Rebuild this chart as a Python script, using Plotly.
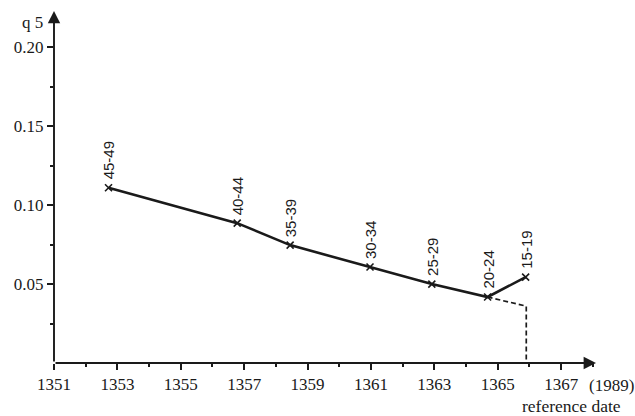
import plotly.graph_objects as go

# Data
age_groups = ["45-49", "40-44", "35-39", "30-34", "25-29", "20-24", "15-19"]
ref_dates = [1352.72, 1356.78, 1358.45, 1360.97, 1362.92, 1364.68, 1365.88]
q5_values = [0.111, 0.0886, 0.0747, 0.0608, 0.0500, 0.0418, 0.0544]

dash_x = [1364.68, 1365.9, 1365.9]
dash_y = [0.0418, 0.036, 0.0]

x_tickvals = [1351, 1353, 1355, 1357, 1359, 1361, 1363, 1365, 1367]
x_minorvals = [1352, 1354, 1356, 1358, 1360, 1362, 1364, 1366, 1368]
y_tickvals = [0.05, 0.10, 0.15, 0.20]
y_ticktext = ["0.05", "0.10", "0.15", "0.20"]
y_minorvals = [0.025, 0.075, 0.125, 0.175]

X0, X1 = 1351, 1368.1
Y0, Y1 = 0.0, 0.223

serif = "Liberation Serif, Times New Roman, serif"
sans = "Liberation Sans, Arial, sans-serif"
ink = "#1a1a1a"

fig = go.Figure()

fig.add_trace(go.Scatter(
    x=dash_x, y=dash_y, mode="lines",
    line=dict(color=ink, width=1.7, dash="5px,3px"),
    hoverinfo="skip", showlegend=False,
))

fig.add_trace(go.Scatter(
    x=ref_dates, y=q5_values, mode="lines+markers",
    line=dict(color=ink, width=2.6),
    marker=dict(symbol="x-thin-open", size=7, line=dict(color=ink, width=1.6), color=ink),
    showlegend=False,
))

annotations = []
for lab, xv, yv in zip(age_groups, ref_dates, q5_values):
    annotations.append(dict(
        x=xv, y=yv, xref="x", yref="y", text=lab, showarrow=False,
        textangle=-90, xanchor="center", yanchor="bottom", yshift=6,
        font=dict(family=sans, size=15, color=ink),
    ))

# axis arrows
annotations.append(dict(
    x=X1, y=0, ax=X0, ay=0, xref="x", yref="y", axref="x", ayref="y",
    text="", showarrow=True, arrowhead=2, arrowsize=1.3, arrowwidth=1.9,
    arrowcolor=ink, standoff=0, startstandoff=0,
))
annotations.append(dict(
    x=X0, y=Y1, ax=X0, ay=0, xref="x", yref="y", axref="x", ayref="y",
    text="", showarrow=True, arrowhead=2, arrowsize=1.3, arrowwidth=1.9,
    arrowcolor=ink, standoff=0, startstandoff=0,
))

annotations.append(dict(
    x=X0, y=Y1, xref="x", yref="y", text="q 5", showarrow=False,
    xanchor="right", yanchor="top", xshift=-9, yshift=0,
    font=dict(family=serif, size=17, color=ink),
))
annotations.append(dict(
    x=1, y=0, xref="paper", yref="paper", text="(1989)", showarrow=False,
    xanchor="left", yanchor="top", xshift=-9, yshift=-11,
    font=dict(family=serif, size=17, color=ink),
))
annotations.append(dict(
    x=1, y=0, xref="paper", yref="paper", text="reference date", showarrow=False,
    xanchor="left", yanchor="top", xshift=-76, yshift=-31,
    font=dict(family=serif, size=17.5, color=ink),
))

fig.update_layout(
    width=635, height=416,
    margin=dict(l=53.5, r=38.6, t=10.5, b=53),
    paper_bgcolor="white", plot_bgcolor="white",
    annotations=annotations,
    xaxis=dict(
        range=[X0, X1], showgrid=False, zeroline=False, showline=False,
        tickmode="array", tickvals=x_tickvals, ticktext=[str(v) for v in x_tickvals],
        ticks="outside", ticklen=6, tickwidth=1.5, tickcolor=ink,
        minor=dict(tickmode="array", tickvals=x_minorvals, ticks="outside",
                   ticklen=3, tickwidth=1.5, tickcolor=ink, showgrid=False),
        tickfont=dict(family=serif, size=17, color=ink),
        fixedrange=True,
    ),
    yaxis=dict(
        range=[Y0, Y1], showgrid=False, zeroline=False, showline=False,
        tickmode="array", tickvals=y_tickvals, ticktext=y_ticktext,
        ticks="outside", ticklen=6, tickwidth=1.5, tickcolor=ink,
        minor=dict(tickmode="array", tickvals=y_minorvals, ticks="outside",
                   ticklen=3, tickwidth=1.5, tickcolor=ink, showgrid=False),
        tickfont=dict(family=serif, size=17, color=ink),
        fixedrange=True,
    ),
)

fig.write_html(
    "out.html",
    config={"displayModeBar": False},
    post_script="document.body.style.margin='0';document.body.style.overflow='hidden';",
)
